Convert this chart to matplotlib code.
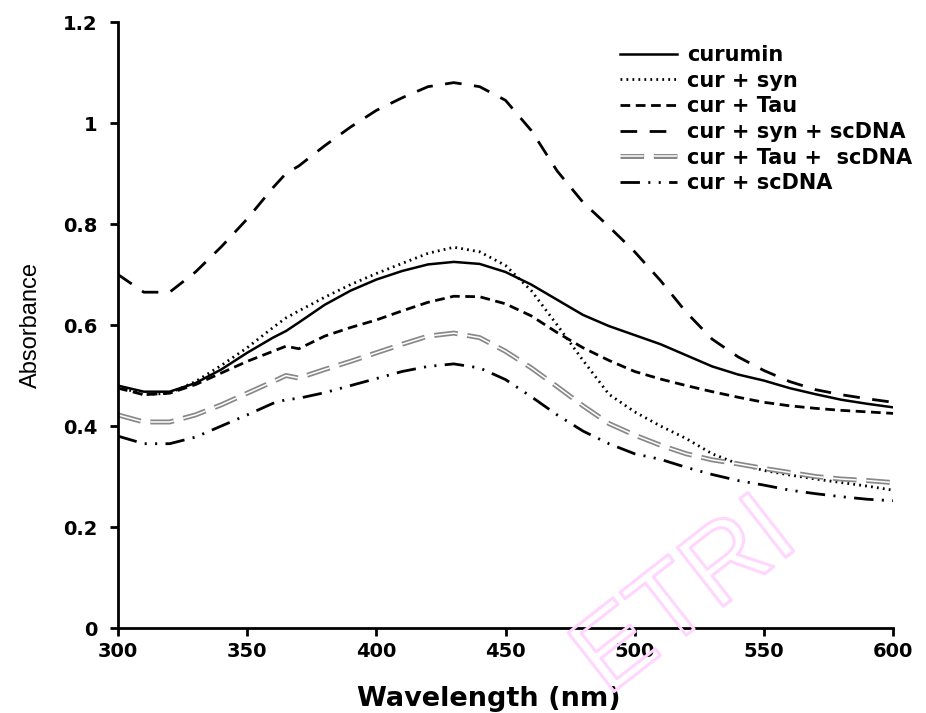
import numpy as np
import matplotlib
matplotlib.use("Agg")
import matplotlib.pyplot as plt
import matplotlib.patheffects as pe

plt.rcParams['font.family'] = ['DejaVu Sans']
plt.rcParams['lines.scale_dashes'] = False

# wavelength grid (nm), extra point at 365 where the spectra have a small glitch
wl = [300, 310, 320, 330, 340, 350, 360, 365, 370, 380, 390, 400, 410, 420, 430, 440,
      450, 460, 470, 480, 490, 500, 510, 520, 530, 540, 550, 560, 570, 580, 590, 600]

curumin = [0.480, 0.468, 0.468, 0.485, 0.512, 0.545, 0.575, 0.588, 0.605, 0.640, 0.668, 0.690,
           0.707, 0.720, 0.725, 0.721, 0.705, 0.680, 0.650, 0.620, 0.598, 0.580, 0.562, 0.540,
           0.518, 0.502, 0.490, 0.475, 0.463, 0.452, 0.444, 0.437]
cur_syn = [0.478, 0.462, 0.465, 0.488, 0.520, 0.555, 0.595, 0.614, 0.628, 0.655, 0.680, 0.702,
           0.722, 0.742, 0.754, 0.745, 0.718, 0.668, 0.600, 0.530, 0.463, 0.428, 0.400, 0.375,
           0.345, 0.325, 0.312, 0.303, 0.295, 0.288, 0.281, 0.273]
cur_tau = [0.475, 0.462, 0.465, 0.482, 0.505, 0.528, 0.548, 0.558, 0.553, 0.578, 0.595, 0.610,
           0.628, 0.645, 0.657, 0.656, 0.642, 0.618, 0.585, 0.555, 0.530, 0.508, 0.493, 0.480,
           0.468, 0.457, 0.447, 0.440, 0.435, 0.431, 0.428, 0.425]
cur_syn_dna = [0.700, 0.665, 0.665, 0.705, 0.755, 0.810, 0.872, 0.900, 0.915, 0.955, 0.992, 1.025,
               1.050, 1.072, 1.080, 1.072, 1.045, 0.985, 0.905, 0.843, 0.795, 0.745, 0.688, 0.625,
               0.572, 0.537, 0.510, 0.488, 0.472, 0.462, 0.454, 0.447]
cur_tau_dna = [0.422, 0.408, 0.408, 0.422, 0.442, 0.465, 0.488, 0.500, 0.495, 0.512, 0.528, 0.545,
               0.562, 0.578, 0.584, 0.575, 0.548, 0.515, 0.478, 0.440, 0.405, 0.382, 0.362, 0.345,
               0.333, 0.325, 0.316, 0.308, 0.300, 0.295, 0.292, 0.288]
cur_dna = [0.380, 0.365, 0.365, 0.378, 0.400, 0.422, 0.445, 0.452, 0.455, 0.466, 0.480, 0.494,
           0.508, 0.518, 0.523, 0.515, 0.492, 0.458, 0.422, 0.390, 0.365, 0.345, 0.334, 0.318,
           0.304, 0.292, 0.283, 0.273, 0.266, 0.260, 0.255, 0.252]

labels = ['curumin', 'cur + syn', 'cur + Tau', 'cur + syn + scDNA', 'cur + Tau +  scDNA', 'cur + scDNA']

fig = plt.figure(figsize=(9.26, 7.13), dpi=100)
ax = fig.add_axes([0.1274, 0.1192, 0.837, 0.8499])
ax.patch.set_alpha(0)

# outlined pink watermark (stroke only, no fill)
fig.text(0.742, 0.16, 'ETRI', fontsize=78, color=(1, 1, 1, 0), rotation=38,
         ha='center', va='center', zorder=5, family=['Liberation Sans', 'DejaVu Sans'],
         path_effects=[pe.Stroke(linewidth=2.2, foreground='#ffd6fe')])

h1, = ax.plot(wl, curumin, color='black', lw=1.8, ls='-')
h2, = ax.plot(wl, cur_syn, color='black', lw=2.0, dashes=(1.3, 3.0))
h3, = ax.plot(wl, cur_tau, color='black', lw=2.0, dashes=(7, 4))
h4, = ax.plot(wl, cur_syn_dna, color='black', lw=2.0, dashes=(12, 9))
h5a, = ax.plot(wl, cur_tau_dna, color='#888888', lw=3.6, dashes=(17, 7))
h5b, = ax.plot(wl, cur_tau_dna, color='white', lw=1.1, dashes=(17, 7))
h6, = ax.plot(wl, cur_dna, color='black', lw=2.0, dashes=(14, 6, 1.5, 6, 1.5, 6))

ax.set_xlim(300, 600)
ax.set_ylim(0, 1.2)
ax.set_xticks([300, 350, 400, 450, 500, 550, 600])
ax.set_yticks([0, 0.2, 0.4, 0.6, 0.8, 1.0, 1.2])
ax.set_yticklabels(['0', '0.2', '0.4', '0.6', '0.8', '1', '1.2'])

for s in ['top', 'right']:
    ax.spines[s].set_visible(False)
for s in ['left', 'bottom']:
    ax.spines[s].set_linewidth(2.0)
ax.tick_params(axis='both', direction='out', length=6, width=2.0)
ax.tick_params(axis='y', pad=9)
ax.tick_params(axis='x', pad=4)
for t in ax.get_xticklabels() + ax.get_yticklabels():
    t.set_fontsize(14)
    t.set_fontweight('bold')

ax.set_xlabel('Wavelength (nm)', fontsize=19.5, fontweight='bold')
ax.xaxis.set_label_coords(0.479, -0.095)
ax.set_ylabel('Absorbance', fontsize=17, family=['Liberation Sans', 'DejaVu Sans'])
ax.yaxis.set_label_coords(-0.098, 0.5)

ax.legend([h1, h2, h3, h4, (h5a, h5b), h6], labels,
          loc='upper left', bbox_to_anchor=(620 / 926, 1 - 45 / 713), bbox_transform=fig.transFigure,
          frameon=False, handlelength=2.75, handletextpad=0.45, labelspacing=0.27,
          borderpad=0, borderaxespad=0,
          prop={'weight': 'bold', 'size': 15})

fig.savefig('out.png', dpi=100)
